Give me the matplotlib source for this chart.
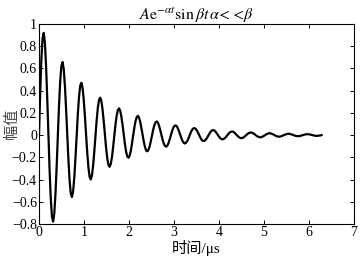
import matplotlib

matplotlib.use("Agg")
import matplotlib.pyplot as plt
import numpy as np

amplitude = [
    0, .375, .678, .868, .920, .833, .624, .331, 0, -.317, -.573, -.734, -.778, -.704, -.527, -.280,
    0, .268, .485, .621, .658, .595, .446, .237, 0, -.227, -.411, -.526, -.557, -.504, -.378, -.200,
    0, .192, .347, .444, .471, .426, .320, .169, 0, -.162, -.294, -.376, -.399, -.360, -.270, -.143,
    0, .137, .249, .318, .337, .305, .228, .121, 0, -.116, -.210, -.269, -.285, -.258, -.194, -.103,
    0, .098, .178, .227, .241, .218, .163, .087, 0, -.083, -.151, -.192, -.204, -.185, -.139, -.074,
    0, .070, .127, .163, .173, .156, .117, .062, 0, -.059, -.107, -.138, -.146, -.132, -.099, -.052,
    0, .050, .091, .116, .123, .112, .083, .044, 0, -.043, -.077, -.098, -.104, -.094, -.071, -.038,
    0, .036, .065, .083, .088, .079, .060, .032, 0, -.030, -.055, -.070, -.075, -.067, -.051, -.027,
    0, .026, .047, .060, .063, .057, .043, .023, 0, -.022, -.040, -.051, -.053, -.048, -.036, -.019,
    0, .018, .033, .043, .045, .041, .030, .016, 0, -.016, -.028, -.036, -.038, -.034, -.026, -.014,
    0, .013, .024, .030, .032, .030, .022, .011, 0, -.011, -.020, -.026, -.027, -.025, -.018, -.010,
    0, .010, .017, .022, .023, .021, .016, .008, 0, -.008, -.014, -.018, -.020, -.018, -.013, -.007,
    0, .007, .012, .016, .017, .015, .011, .006, 0, -.006, -.011, -.013, -.014, -.013, -.009, -.005,
    0, .005, .008, .011, .012, .011, .008, .004, 0, -.004, -.007, -.009, -.010, -.009, -.007, -.003,
    0, .003, .006, .008, .008, .007, .006, .003, 0, -.003, -.005, -.006, -.007, -.006, -.005, -.003,
    0,
]
t_end = 6.28
xticks = [0, 1, 2, 3, 4, 5, 6, 7]
yticks = [-0.8, -0.6, -0.4, -0.2, 0, 0.2, 0.4, 0.6, 0.8, 1]

plt.rcParams["font.family"] = ["Liberation Serif", "Noto Sans CJK SC"]
plt.rcParams["mathtext.fontset"] = "stix"

time = np.linspace(0, t_end, len(amplitude))

fig = plt.figure(figsize=(3.63, 2.61), dpi=100)
ax = fig.add_axes([39 / 363, 1 - 224 / 261, 315 / 363, 200 / 261])
ax.plot(time, amplitude, color="black", linewidth=1.6)
ax.set_xlim(0, 7)
ax.set_ylim(-0.8, 1)
ax.set_xticks(xticks)
ax.set_yticks(yticks)
ax.set_xticklabels([f"{v:g}" for v in xticks])
ax.set_yticklabels([f"{v:g}".replace("-", "\u2212") for v in yticks])
ax.tick_params(direction="in", top=True, right=True, length=3, width=0.7,
               labelsize=10, pad=1.5)
for s in ax.spines.values():
    s.set_linewidth(0.8)
ax.set_xlabel("时间/μs", fontsize=11, labelpad=1)
ax.set_ylabel("幅值", fontsize=11, color="#444444")
ax.yaxis.set_label_coords(-0.062, 0.5)
ax.set_title(r"$A\mathrm{e}^{-\alpha t}\mathrm{sin}\,\beta t\,\alpha\!<\!<\!\beta$",
             fontsize=11.5, pad=3)
fig.savefig("out.png", dpi=100)
